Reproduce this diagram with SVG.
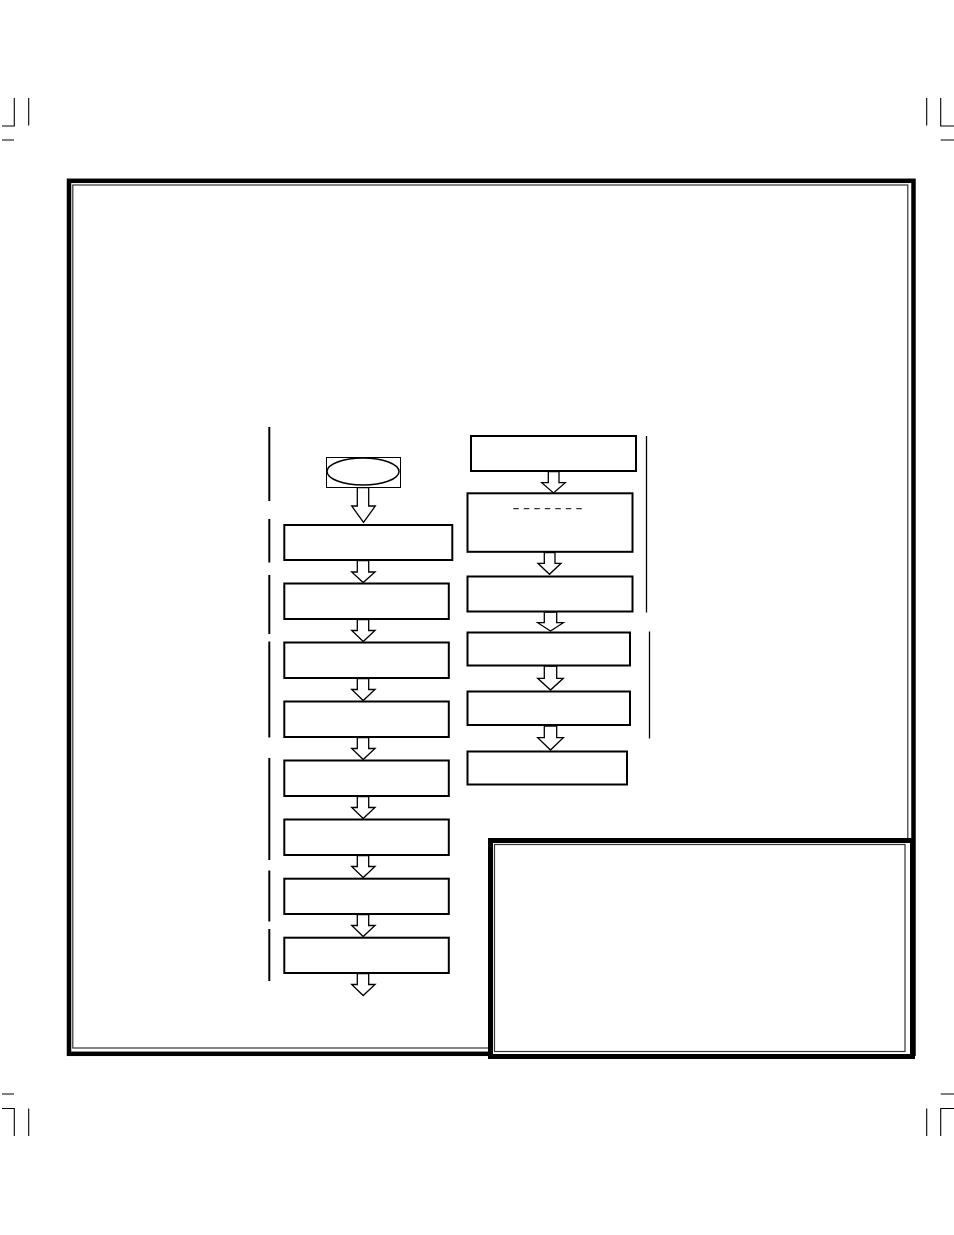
<svg xmlns="http://www.w3.org/2000/svg" width="954" height="1235" viewBox="0 0 954 1235">
<style>
.crop{stroke:#000;stroke-width:1.1;fill:none}
.box{fill:#fff;stroke:#000;stroke-width:2}
.arr{fill:#fff;stroke:#000;stroke-width:1.3;stroke-linejoin:miter}
.bar{stroke:#000;stroke-width:2}
.thin{stroke:#000;stroke-width:1.3}
</style>
<rect width="954" height="1235" fill="#fff"/>
<g id="crop-marks">
<path class="crop" d="M14.3 98V126H2M28.7 98V125.5M2 140H14"/>
<path class="crop" d="M926.7 98V125.5M940.7 98V126H954M940.7 140H954"/>
<path class="crop" d="M2 1094H14M2 1108.5H14.3V1136M28.7 1108.5V1136"/>
<path class="crop" d="M940.7 1094H954M954 1108.5H940.7V1136M926.7 1108.5V1136"/>
</g>
<g id="frame">
<rect x="69" y="180.8" width="844.5" height="873" fill="#fff" stroke="#000" stroke-width="4.5"/>
<rect x="72.8" y="185" width="835" height="863" fill="none" stroke="#000" stroke-width="1.2" opacity="0.8"/>
</g>
<g id="brackets">
<line class="bar" x1="269.3" y1="427" x2="269.3" y2="501"/>
<line class="bar" x1="269.3" y1="519" x2="269.3" y2="562.5"/>
<line class="bar" x1="269.3" y1="575" x2="269.3" y2="634"/>
<line class="bar" x1="269.3" y1="641.5" x2="269.3" y2="737.5"/>
<line class="bar" x1="269.3" y1="758" x2="269.3" y2="860"/>
<line class="bar" x1="269.3" y1="870.5" x2="269.3" y2="921.5"/>
<line class="bar" x1="269.3" y1="929" x2="269.3" y2="981"/>
<line class="thin" x1="646.5" y1="436" x2="646.5" y2="612.5"/>
<line class="thin" x1="649.5" y1="631.5" x2="649.5" y2="738.5"/>
</g>
<g id="connectors">
<polygon class="arr" points="357.3,487.5 368.7,487.5 368.7,506 375.3,506 363.5,522.5 351.7,506 357.3,506"/>
<polygon class="arr" points="357.3,560.5 368.7,560.5 368.7,572 375,572 363.2,582.5 351.7,572 357.3,572"/>
<polygon class="arr" points="357.3,619.5 368.7,619.5 368.7,630.5 375,630.5 363.2,641.5 351.7,630.5 357.3,630.5"/>
<polygon class="arr" points="357.3,678.5 368.7,678.5 368.7,689.5 375,689.5 363.2,700.5 351.7,689.5 357.3,689.5"/>
<polygon class="arr" points="357.3,737.5 368.7,737.5 368.7,748.5 375,748.5 363.2,759.5 351.7,748.5 357.3,748.5"/>
<polygon class="arr" points="357.3,796.5 368.7,796.5 368.7,807.5 375,807.5 363.2,818.5 351.7,807.5 357.3,807.5"/>
<polygon class="arr" points="357.3,855.5 368.7,855.5 368.7,866.5 375,866.5 363.2,877.5 351.7,866.5 357.3,866.5"/>
<polygon class="arr" points="357.3,914.5 368.7,914.5 368.7,925.5 375,925.5 363.2,936.5 351.7,925.5 357.3,925.5"/>
<polygon class="arr" points="357.3,973.5 368.7,973.5 368.7,984.5 375,984.5 363.2,995.5 351.7,984.5 357.3,984.5"/>
<polygon class="arr" points="548.3,471.5 559,471.5 559,482.7 565.3,482.7 553.5,493 541.7,482.7 548.3,482.7"/>
<polygon class="arr" points="544.3,552.5 555,552.5 555,563.3 561,563.3 549.5,574.3 537.9,563.3 544.3,563.3"/>
<polygon class="arr" points="544.3,612 556.7,612 556.7,622.7 563.3,622.7 550.5,631 537.7,622.7 544.3,622.7"/>
<polygon class="arr" points="544.3,666 556.7,666 556.7,678.3 563.3,678.3 550.5,690 537.7,678.3 544.3,678.3"/>
<polygon class="arr" points="544.3,726 556.7,726 556.7,737.7 563.3,737.7 550.5,750 537.7,737.7 544.3,737.7"/>
</g>
<g id="start">
<rect x="326.5" y="457.5" width="74" height="30" fill="#fff" stroke="#000" stroke-width="1"/>
<ellipse cx="363" cy="471.5" rx="36" ry="13.5" fill="#fff" stroke="#000" stroke-width="1.5"/>
</g>
<g id="step1"><rect class="box" x="284.3" y="525" width="168" height="35"/></g>
<g id="step2"><rect class="box" x="284.3" y="583.5" width="164.5" height="35.5"/></g>
<g id="step3"><rect class="box" x="284.3" y="642.5" width="164.5" height="35.5"/></g>
<g id="step4"><rect class="box" x="284.3" y="701.5" width="164.5" height="35.5"/></g>
<g id="step5"><rect class="box" x="284.3" y="760.5" width="164.5" height="35.5"/></g>
<g id="step6"><rect class="box" x="284.3" y="819.5" width="164.5" height="35.5"/></g>
<g id="step7"><rect class="box" x="284.3" y="878.7" width="164.5" height="35.3"/></g>
<g id="step8"><rect class="box" x="284.3" y="937.7" width="164.5" height="35.3"/></g>
<g id="stepA"><rect class="box" x="471" y="436" width="165" height="35"/></g>
<g id="stepB"><rect class="box" x="467.5" y="493.3" width="165" height="58.5"/>
<line x1="513.3" y1="508.7" x2="584.5" y2="508.7" stroke="#000" stroke-width="1" stroke-dasharray="5.5,5"/></g>
<g id="stepC"><rect class="box" x="467.5" y="576.5" width="165" height="35"/></g>
<g id="stepD"><rect class="box" x="467.5" y="632.5" width="162.5" height="33"/></g>
<g id="stepE"><rect class="box" x="467.5" y="691.5" width="162.5" height="33.5"/></g>
<g id="stepF"><rect class="box" x="467.5" y="751.5" width="159.5" height="33"/></g>
<g id="note-box">
<rect x="490.5" y="840.5" width="422" height="216" fill="#fff" stroke="#000" stroke-width="5"/>
<rect x="494.5" y="844.5" width="410.5" height="207" fill="none" stroke="#000" stroke-width="1.2" opacity="0.8"/>
</g>
</svg>
